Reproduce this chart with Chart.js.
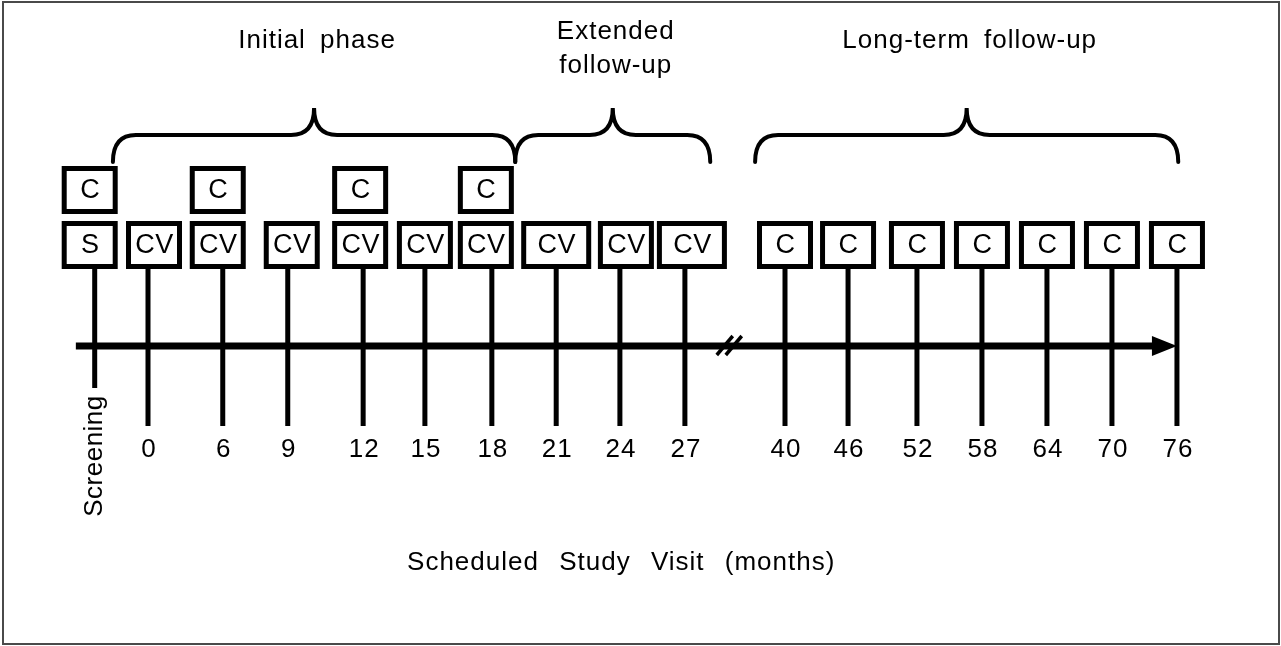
<!DOCTYPE html>
<html>
<head>
<meta charset="utf-8">
<title>Scheduled study visits</title>
<script src="https://cdn.jsdelivr.net/npm/chart.js@4.4.1/dist/chart.umd.min.js"></script>
<style>
  html, body { margin: 0; padding: 0; background: #fff; }
  #timeline { display: block; }
</style>
</head>
<body>
<canvas id="timeline" width="1281" height="646"></canvas>
<script>
// visits along the schedule, in drawing order
const visitLabels = ["Screening", "0", "6", "9", "12", "15", "18", "21", "24", "27", "40", "46", "52", "58", "64", "70", "76"];
// position of each visit on the (schematic, non-proportional) timeline
const visitSlots = [-0.82, 0, 1.15, 2.15, 3.31, 4.26, 5.29, 6.28, 7.26, 8.26, 9.8, 10.77, 11.83, 12.83, 13.83, 14.83, 15.83];
// letters in the box just above the axis, and in the box stacked on top of it
const lowerBoxes = ["S", "CV", "CV", "CV", "CV", "CV", "CV", "CV", "CV", "CV", "C", "C", "C", "C", "C", "C", "C"];
const upperBoxes = ["C", "", "C", "", "C", "", "C", "", "", "", "", "", "", "", "", "", ""];

// study phases and the part of the timeline each brace covers
const phaseLabels = [["Initial phase"], ["Extended", "follow-up"], ["Long-term follow-up"]];
const phaseFrom = [-0.54, 5.65, 9.34];
const phaseTo = [5.65, 8.65, 15.85];

const axisFrom = -1.11;
const axisTo = 15.83;
const axisBreak = 8.95;
const axisTitle = "Scheduled Study Visit (months)";

// vertical levels (y units) used for the layout
const yLevel = {
  axis: 0,
  lowerBox: 2.02,
  upperBox: 3.12,
  stemEnd: -1.6,
  screeningEnd: -0.84,
  tick: -2.22,
  screeningLabel: -2.2,
  title: -4.48,
  braceEnd: 3.68,
  braceMid: 4.22,
  braceTip: 4.76,
  phaseSingle: 5.97,
  phaseMulti: 6.14,
  phaseStep: 0.68,
};

// hand-drawn look: boxes sit a little off their stems in the original
const boxNudge = { Screening: -5, "0": 6, "6": -5, "9": 4, "12": -3, "18": -6, "24": 6, "27": 7 };
const wideBoxes = ["21", "27"];
const FONT = "26px 'Liberation Sans', Arial, sans-serif";

function setText(ctx, wordGap) {
  ctx.font = FONT;
  ctx.fillStyle = "#000";
  ctx.letterSpacing = "1px";
  ctx.wordSpacing = (wordGap || 4) + "px";
}

function drawBox(ctx, cx, cy, w, h, text) {
  const lw = 5;
  ctx.fillStyle = "#fff";
  ctx.fillRect(cx - w / 2, cy - h / 2, w, h);
  ctx.lineWidth = lw;
  ctx.strokeStyle = "#000";
  ctx.strokeRect(cx - w / 2 + lw / 2, cy - h / 2 + lw / 2, w - lw, h - lw);
  setText(ctx);
  ctx.font = "27px 'Liberation Sans', Arial, sans-serif";
  ctx.letterSpacing = "0.5px";
  ctx.textAlign = "center";
  ctx.textBaseline = "middle";
  ctx.fillText(text, cx + 0.5, cy + 1);
}

function drawBrace(ctx, x0, x1, yEnd, yMid, yTip) {
  const xc = (x0 + x1) / 2;
  const r = 23;
  ctx.beginPath();
  ctx.moveTo(x0, yEnd);
  ctx.quadraticCurveTo(x0, yMid, x0 + r, yMid);
  ctx.lineTo(xc - r, yMid);
  ctx.quadraticCurveTo(xc, yMid, xc, yTip);
  ctx.quadraticCurveTo(xc, yMid, xc + r, yMid);
  ctx.lineTo(x1 - r, yMid);
  ctx.quadraticCurveTo(x1, yMid, x1, yEnd);
  ctx.lineWidth = 4;
  ctx.strokeStyle = "#000";
  ctx.lineCap = "round";
  ctx.stroke();
  ctx.lineCap = "butt";
}

const timelinePlugin = {
  id: "timeline",
  beforeDraw(chart) {
    const { ctx, width, height } = chart;
    ctx.save();
    ctx.fillStyle = "#fff";
    ctx.fillRect(0, 0, width, height);
    ctx.lineWidth = 2;
    ctx.strokeStyle = "#4a4a4a";
    ctx.strokeRect(3, 2, width - 5, height - 4);
    ctx.restore();
  },
  afterDatasetsDraw(chart) {
    const { ctx } = chart;
    const x = chart.scales.x;
    const y = chart.scales.y;
    ctx.save();

    // arrow head at the end of the axis
    const tip = x.getPixelForValue(axisTo);
    const ay = y.getPixelForValue(yLevel.axis);
    ctx.fillStyle = "#000";
    ctx.beginPath();
    ctx.moveTo(tip, ay);
    ctx.lineTo(tip - 25, ay - 10);
    ctx.lineTo(tip - 25, ay + 10);
    ctx.closePath();
    ctx.fill();

    // axis break mark
    const bx = x.getPixelForValue(axisBreak);
    ctx.lineWidth = 3.5;
    ctx.strokeStyle = "#000";
    [-5, 4].forEach((off) => {
      ctx.beginPath();
      ctx.moveTo(bx + off - 8, ay + 9);
      ctx.lineTo(bx + off + 8, ay - 10);
      ctx.stroke();
    });

    // visit boxes
    visitLabels.forEach((label, i) => {
      const cx = x.getPixelForValue(visitSlots[i]) + (boxNudge[label] || 0);
      const w = wideBoxes.includes(label) ? 70 : 56;
      if (lowerBoxes[i]) {
        drawBox(ctx, cx, y.getPixelForValue(yLevel.lowerBox), w, 48, lowerBoxes[i]);
      }
      if (upperBoxes[i]) {
        drawBox(ctx, cx, y.getPixelForValue(yLevel.upperBox), 56, 48, upperBoxes[i]);
      }
    });

    // visit labels under the stems
    setText(ctx);
    ctx.textBaseline = "alphabetic";
    visitLabels.forEach((label, i) => {
      const cx = x.getPixelForValue(visitSlots[i]);
      if (label === "Screening") {
        ctx.save();
        ctx.translate(cx + 7, y.getPixelForValue(yLevel.screeningLabel));
        ctx.rotate(-Math.PI / 2);
        ctx.textAlign = "center";
        ctx.letterSpacing = "0.5px";
        ctx.fillText(label, 0, 0);
        ctx.restore();
      } else {
        ctx.textAlign = "center";
        ctx.fillText(label, cx + 1, y.getPixelForValue(yLevel.tick));
      }
    });

    // phase braces and titles
    phaseLabels.forEach((lines, i) => {
      const x0 = x.getPixelForValue(phaseFrom[i]);
      const x1 = x.getPixelForValue(phaseTo[i]);
      drawBrace(
        ctx, x0, x1,
        y.getPixelForValue(yLevel.braceEnd),
        y.getPixelForValue(yLevel.braceMid),
        y.getPixelForValue(yLevel.braceTip)
      );
      setText(ctx, 6);
      ctx.textAlign = "center";
      ctx.textBaseline = "alphabetic";
      const top = lines.length > 1 ? yLevel.phaseMulti : yLevel.phaseSingle;
      lines.forEach((line, j) => {
        ctx.fillText(line, (x0 + x1) / 2 + 3, y.getPixelForValue(top - j * yLevel.phaseStep));
      });
    });

    // axis title
    setText(ctx, 12);
    ctx.textAlign = "center";
    ctx.textBaseline = "alphabetic";
    ctx.fillText(axisTitle, x.getPixelForValue(7.28), y.getPixelForValue(yLevel.title));

    ctx.restore();
  },
};

const stemDatasets = visitLabels.map((label, i) => ({
  data: [
    { x: visitSlots[i], y: yLevel.lowerBox },
    { x: visitSlots[i], y: label === "Screening" ? yLevel.screeningEnd : yLevel.stemEnd },
  ],
  borderWidth: 5,
}));

const axisDataset = {
  data: [
    { x: axisFrom, y: yLevel.axis },
    { x: axisTo - 0.2, y: yLevel.axis },
  ],
  borderWidth: 7,
};

const datasets = stemDatasets.concat([axisDataset]).map((ds) => ({
  ...ds,
  showLine: true,
  borderColor: "#000",
  pointRadius: 0,
  borderCapStyle: "butt",
  clip: false,
}));

new Chart(document.getElementById("timeline"), {
  type: "scatter",
  data: { datasets },
  options: {
    responsive: false,
    animation: false,
    events: [],
    layout: { padding: 0 },
    plugins: {
      legend: { display: false },
      tooltip: { enabled: false },
    },
    scales: {
      x: { type: "linear", min: -148 / 65, max: (1281 - 148) / 65, display: false },
      y: { type: "linear", min: -6, max: 346 / 50, display: false },
    },
  },
  plugins: [timelinePlugin],
});
</script>
</body>
</html>
